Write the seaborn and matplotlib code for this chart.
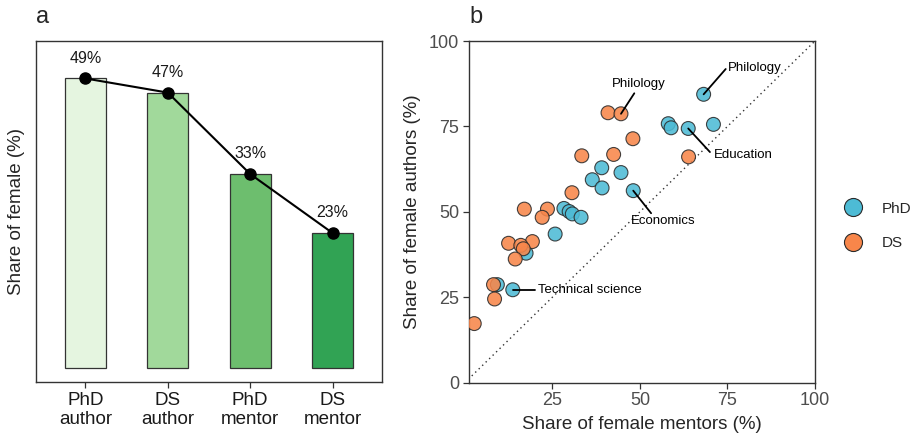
import numpy as np
import pandas as pd
import matplotlib
matplotlib.use("Agg")
import matplotlib.pyplot as plt
from matplotlib.lines import Line2D
import seaborn as sns

# ---------------- data ----------------
categories = ["PhD\nauthor", "DS\nauthor", "PhD\nmentor", "DS\nmentor"]
female_share = [49.0, 46.6, 32.8, 22.8]

phd_mentors = [68.2, 58.1, 58.9, 63.8, 71.0, 39.1, 44.6, 36.4, 39.2, 48.1,
               28.3, 29.8, 30.7, 33.2, 25.8, 17.5, 9.3, 13.7]
phd_authors = [84.4, 75.8, 74.6, 74.4, 75.6, 62.9, 61.5, 59.4, 57.0, 56.2,
               51.0, 50.1, 49.4, 48.4, 43.5, 37.9, 28.7, 27.2]
ds_mentors = [40.9, 44.6, 48.0, 33.4, 42.5, 30.6, 63.9, 17.0, 23.6, 22.1,
              12.5, 19.3, 16.0, 16.7, 14.4, 8.2, 8.5, 2.7]
ds_authors = [79.0, 78.7, 71.4, 66.4, 66.8, 55.6, 66.1, 50.8, 50.8, 48.4,
              40.8, 41.3, 40.2, 39.2, 36.2, 28.7, 24.5, 17.3]

# labelled fields: (label, degree, index into that degree's arrays)
labels = [("Philology", "DS", 1), ("Philology", "PhD", 0), ("Education", "PhD", 3),
          ("Economics", "PhD", 9), ("Technical science", "PhD", 17)]

# ---------------- style ----------------
sns.set_theme(style="white")
plt.rcParams["font.family"] = ["Liberation Sans", "DejaVu Sans"]

bar_colors = ["#E5F5E0", "#A1D99B", "#6DBE6E", "#31A354"]
deg_colors = {"PhD": "#4DBBD5", "DS": "#F8864A"}
frame_col = "#333333"

fig = plt.figure(figsize=(9.21, 4.41), dpi=100)
ax1 = fig.add_axes([36 / 921, 1 - 382 / 441, 346 / 921, 341.3 / 441])
ax2 = fig.add_axes([469 / 921, 1 - 382.7 / 441, 346 / 921, 341.7 / 441])

# ---------------- panel a ----------------
dfa = pd.DataFrame({"cat": categories, "share": female_share})
sns.barplot(data=dfa, x="cat", y="share", hue="cat", palette=bar_colors,
            saturation=1, legend=False, width=0.5, edgecolor=frame_col,
            linewidth=0.9, ax=ax1)
xs = np.arange(len(categories))
ax1.plot(xs, female_share, color="black", lw=1.5, marker="o", ms=8, zorder=5)
for x, v in zip(xs, female_share):
    ax1.text(x, v + 3.4, f"{round(v):.0f}%", ha="center", va="center",
             fontsize=11.5, color="#1a1a1a")
ax1.set_xlim(-0.6, 3.6)
ax1.set_ylim(-2.45, 55.4)
ax1.set_yticks([])
ax1.set_xlabel("")
ax1.set_ylabel("Share of female (%)", fontsize=13.5, labelpad=8)
ax1.tick_params(axis="x", which="both", bottom=True, length=4, width=0.9,
                color=frame_col, labelsize=13.5, labelcolor="#1a1a1a", pad=3)
for s in ax1.spines.values():
    s.set_visible(True)
    s.set_color(frame_col)
    s.set_linewidth(1.0)
fig.text(36 / 921, 1 - 17 / 441, "a", fontsize=17, ha="left", va="center")

# ---------------- panel b ----------------
dfb = pd.concat([
    pd.DataFrame({"mentors": phd_mentors, "authors": phd_authors, "degree": "PhD"}),
    pd.DataFrame({"mentors": ds_mentors, "authors": ds_authors, "degree": "DS"}),
], ignore_index=True)

ax2.plot([0, 100], [0, 100], ls=(0, (1, 2.5)), color="#333333", lw=1.0, zorder=1)
sns.scatterplot(data=dfb, x="mentors", y="authors", hue="degree",
                palette=deg_colors, s=100, edgecolor="#2a2a2a", linewidth=0.8,
                alpha=0.88, legend=False, ax=ax2, zorder=3)

src = {"PhD": (phd_mentors, phd_authors), "DS": (ds_mentors, ds_authors)}
# text placement: (x, y, ha) and segment end
ann_pos = [(49.6, 87.5, "center", 48.4, 84.7),
           (75.2, 92.1, "left", 74.5, 91.8),
           (71.0, 66.6, "left", 70.0, 67.5),
           (56.7, 47.3, "center", 53.2, 49.6),
           (21.0, 27.2, "left", 20.1, 27.2)]
for (lab, deg, i), (tx, ty, ha, ex, ey) in zip(labels, ann_pos):
    px, py = src[deg][0][i], src[deg][1][i]
    ax2.plot([px, ex], [py, ey], color="black", lw=1.3, zorder=6)
    ax2.text(tx, ty, lab, ha=ha, va="center", fontsize=9.5, color="black", zorder=7)

ax2.set_xlim(1.2, 100)
ax2.set_ylim(0, 100)
ax2.set_xticks([25, 50, 75, 100])
ax2.set_yticks([0, 25, 50, 75, 100])
ax2.set_xlabel("Share of female mentors (%)", fontsize=13.5, labelpad=5)
ax2.set_ylabel("Share of female authors (%)", fontsize=13.5, labelpad=6)
ax2.tick_params(axis="both", which="both", bottom=True, left=True, length=4,
                width=0.9, color=frame_col, labelsize=13, labelcolor="#4d4d4d", pad=3)
for s in ax2.spines.values():
    s.set_visible(True)
    s.set_color(frame_col)
    s.set_linewidth(1.0)
fig.text(469 / 921, 1 - 17 / 441, "b", fontsize=17, ha="left", va="center")

handles = [Line2D([], [], ls="none", marker="o", ms=13, mfc=deg_colors[k],
                  mec="#2a2a2a", mew=0.8, label=k) for k in ["PhD", "DS"]]
fig.legend(handles=handles, loc="center left", bbox_to_anchor=(845 / 921, 1 - 226 / 441),
           frameon=False, fontsize=11, handlelength=1.0, handletextpad=1.4,
           labelspacing=1.35, borderpad=0, borderaxespad=0)

fig.savefig("out.png", dpi=100)
